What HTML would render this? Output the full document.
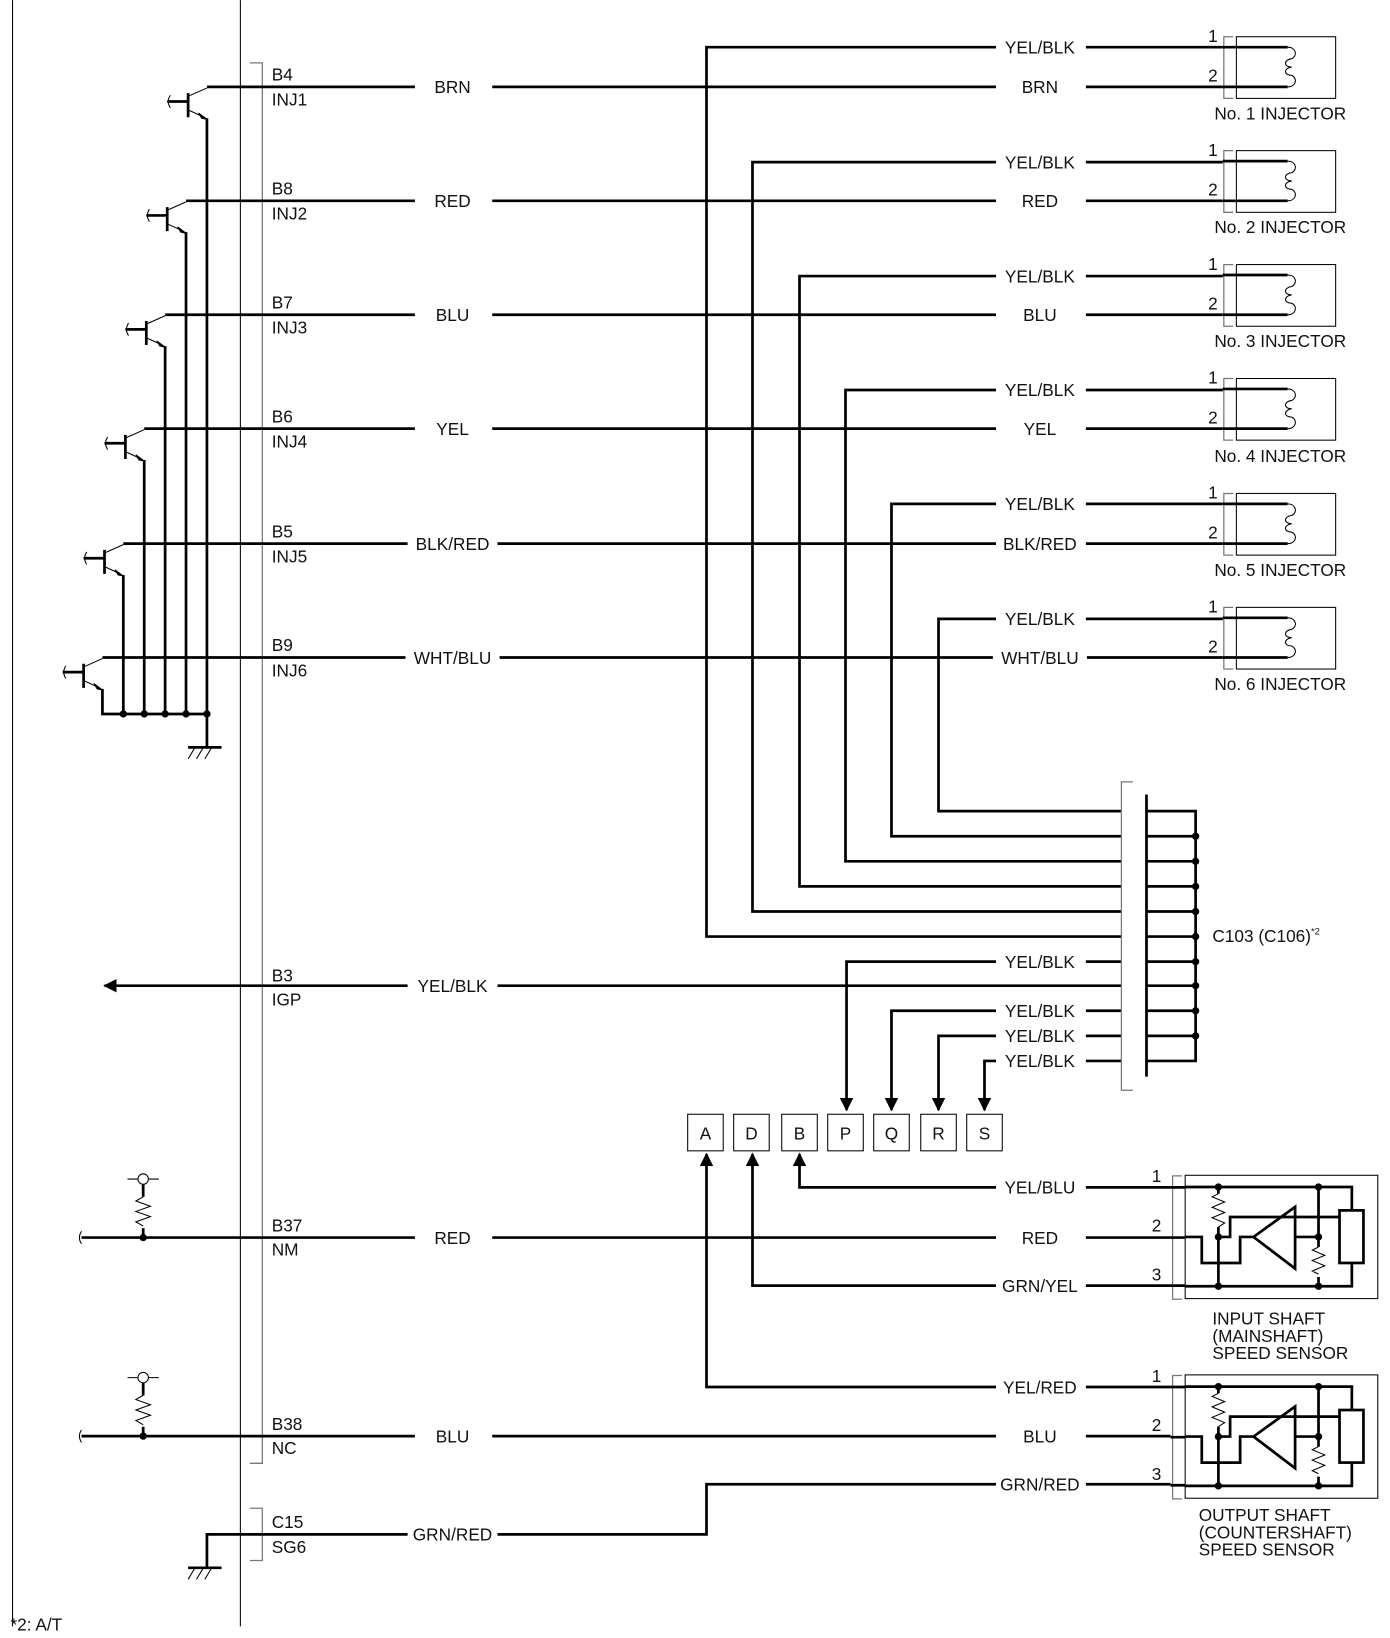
<!DOCTYPE html>
<html><head><meta charset="utf-8"><style>
html,body{margin:0;padding:0;background:#fff}
svg{display:block}
text{font-family:"Liberation Sans",Arial,sans-serif;font-size:16.5px;fill:#111}
.w{stroke:#000;stroke-width:2.6;fill:none}
.t{stroke:#000;stroke-width:1;fill:none}
.g{stroke:#777;stroke-width:1.2;fill:none}
.m{text-anchor:middle}
</style></head><body>
<svg width="1390" height="1638" viewBox="0 0 1330 1567" xmlns="http://www.w3.org/2000/svg">
<defs>
<marker id="ar" viewBox="0 0 10 10" refX="9" refY="5" markerWidth="5" markerHeight="5" orient="auto-start-reverse"><path d="M0,0 L10,5 L0,10z" fill="#000"/></marker>
</defs>
<!-- ECM -->
<path class="t" d="M12,0 V1556" stroke-width="1.6"/>
<path class="t" d="M230,0 V1556" stroke-width="1.6"/>
<path class="g" d="M239,60 H251 V1400 H239"/>
<path class="g" d="M239,1443 H251 V1493 H239"/>

<!-- main wires -->
<g class="w">
<path d="M198,83 H1170"/><path d="M178,192 H1170"/><path d="M158,301 H1170"/><path d="M138,410 H1170"/><path d="M118,520 H1170"/><path d="M98,629 H1170"/>
<path d="M100,943 H1073" marker-start="url(#ar)"/>
<path d="M78,1184 H1120"/><path d="M78,1374 H1120"/>
<path d="M198,1500 V1468 H676 V1420 H1120"/>
<path d="M1170,45 H676 V896 H1073"/>
<path d="M1170,155 H720 V872 H1073"/>
<path d="M1170,264 H765 V848 H1073"/>
<path d="M1170,373 H809 V824 H1073"/>
<path d="M1170,482 H853 V800 H1073"/>
<path d="M1170,592 H898 V776 H1073"/>
<path d="M1073,920 H810 V1062" marker-end="url(#ar)"/>
<path d="M1073,967 H853 V1062" marker-end="url(#ar)"/>
<path d="M1073,991 H898 V1062" marker-end="url(#ar)"/>
<path d="M1073,1015 H942 V1062" marker-end="url(#ar)"/>
<path d="M1120,1136 H765 V1104" marker-end="url(#ar)"/>
<path d="M1120,1230 H720 V1104" marker-end="url(#ar)"/>
<path d="M1120,1327 H676 V1104" marker-end="url(#ar)"/>
<path d="M1097,760 V1030"/>
<path d="M1097,776 H1144 V1015 H1097"/>
<path d="M1097,800 H1144 M1097,824 H1144 M1097,848 H1144 M1097,872 H1144 M1097,896 H1144 M1097,920 H1144 M1097,943 H1144 M1097,967 H1144 M1097,991 H1144"/>
<path d="M198,113 V715"/><path d="M178,222 V683"/><path d="M158,331 V683"/><path d="M138,440 V683"/><path d="M118,550 V683"/><path d="M98,659 V683 H198"/>
<path d="M180,715 H212"/>
<path d="M137,1133 V1145 M137,1175 V1184"/>
<path d="M137,1323 V1335 M137,1365 V1374"/>
</g>
<g fill="#000">
<circle cx="1144" cy="800" r="3.5"/><circle cx="1144" cy="824" r="3.5"/><circle cx="1144" cy="848" r="3.5"/><circle cx="1144" cy="872" r="3.5"/><circle cx="1144" cy="896" r="3.5"/><circle cx="1144" cy="920" r="3.5"/><circle cx="1144" cy="943" r="3.5"/><circle cx="1144" cy="967" r="3.5"/><circle cx="1144" cy="991" r="3.5"/>
<circle cx="118" cy="683" r="3.5"/><circle cx="138" cy="683" r="3.5"/><circle cx="158" cy="683" r="3.5"/><circle cx="178" cy="683" r="3.5"/><circle cx="198" cy="683" r="3.5"/>
<circle cx="137" cy="1184" r="3.5"/><circle cx="137" cy="1374" r="3.5"/>
</g>
<path class="g" d="M1084,748 H1073 V1043 H1084"/>

<g id="tr">
<path class="w" d="M180,89 V112 M160,97 H180"/>
<path class="t" d="M180,92 L198,84 M180,105 L193,111"/>
<path d="M198,114 L190,108 L193,113z" fill="#000" stroke="#000"/>
<path class="t" d="M163,91 q-4,6 0,12"/>
</g>
<use href="#tr" transform="translate(-20,109)"/>
<use href="#tr" transform="translate(-40,218)"/>
<use href="#tr" transform="translate(-60,327)"/>
<use href="#tr" transform="translate(-80,437)"/>
<use href="#tr" transform="translate(-100,546)"/>
<path class="t" d="M78,1178 q-4,6 0,12 M78,1368 q-4,6 0,12"/>
<path class="t" d="M186,716 l-6,10 M194,716 l-6,10 M202,716 l-6,10"/>
<path class="w" d="M180,1500 H212"/>
<path class="t" d="M186,1501 l-6,10 M194,1501 l-6,10 M202,1501 l-6,10"/>
<g class="t">
<path d="M122,1128 H152 M122,1318 H152"/>
<path d="M137,1145 l-7,4 l14,5 l-14,5 l14,5 l-14,5 l7,4 M137,1335 l-7,4 l14,5 l-14,5 l14,5 l-14,5 l7,4"/>
</g>
<circle cx="137" cy="1128" r="5" fill="#fff" stroke="#000"/>
<circle cx="137" cy="1318" r="5" fill="#fff" stroke="#000"/>

<g fill="#fff">
<rect x="397" y="70" width="74" height="26"/><rect x="397" y="179" width="74" height="26"/><rect x="397" y="288" width="74" height="26"/><rect x="397" y="397" width="74" height="26"/><rect x="390" y="507" width="86" height="26"/><rect x="388" y="616" width="90" height="26"/><rect x="390" y="930" width="86" height="26"/><rect x="397" y="1171" width="74" height="26"/><rect x="397" y="1361" width="74" height="26"/><rect x="390" y="1455" width="86" height="26"/>
<rect x="953" y="32" width="86" height="26"/><rect x="953" y="70" width="86" height="26"/><rect x="953" y="142" width="86" height="26"/><rect x="953" y="179" width="86" height="26"/><rect x="953" y="251" width="86" height="26"/><rect x="953" y="288" width="86" height="26"/><rect x="953" y="360" width="86" height="26"/><rect x="953" y="397" width="86" height="26"/><rect x="953" y="469" width="86" height="26"/><rect x="953" y="507" width="86" height="26"/><rect x="953" y="579" width="86" height="26"/><rect x="950" y="616" width="90" height="26"/>
<rect x="953" y="907" width="86" height="26"/><rect x="953" y="954" width="86" height="26"/><rect x="953" y="978" width="86" height="26"/><rect x="953" y="1002" width="86" height="26"/>
<rect x="953" y="1123" width="86" height="26"/><rect x="953" y="1171" width="86" height="26"/><rect x="953" y="1217" width="86" height="26"/><rect x="953" y="1314" width="86" height="26"/><rect x="953" y="1361" width="86" height="26"/><rect x="953" y="1407" width="86" height="26"/>
</g>
<g class="m">
<text x="433" y="89">BRN</text><text x="433" y="198">RED</text><text x="433" y="307">BLU</text><text x="433" y="416">YEL</text><text x="433" y="526">BLK/RED</text><text x="433" y="635">WHT/BLU</text><text x="433" y="949">YEL/BLK</text><text x="433" y="1190">RED</text><text x="433" y="1380">BLU</text><text x="433" y="1474">GRN/RED</text>
<text x="995" y="51">YEL/BLK</text><text x="995" y="89">BRN</text><text x="995" y="161">YEL/BLK</text><text x="995" y="198">RED</text><text x="995" y="270">YEL/BLK</text><text x="995" y="307">BLU</text><text x="995" y="379">YEL/BLK</text><text x="995" y="416">YEL</text><text x="995" y="488">YEL/BLK</text><text x="995" y="526">BLK/RED</text><text x="995" y="598">YEL/BLK</text><text x="995" y="635">WHT/BLU</text>
<text x="995" y="926">YEL/BLK</text><text x="995" y="973">YEL/BLK</text><text x="995" y="997">YEL/BLK</text><text x="995" y="1021">YEL/BLK</text>
<text x="995" y="1142">YEL/BLU</text><text x="995" y="1190">RED</text><text x="995" y="1236">GRN/YEL</text><text x="995" y="1333">YEL/RED</text><text x="995" y="1380">BLU</text><text x="995" y="1426">GRN/RED</text>
</g>
<g>
<text x="260" y="77">B4</text><text x="260" y="101">INJ1</text>
<text x="260" y="186">B8</text><text x="260" y="210">INJ2</text>
<text x="260" y="295">B7</text><text x="260" y="319">INJ3</text>
<text x="260" y="404">B6</text><text x="260" y="428">INJ4</text>
<text x="260" y="514">B5</text><text x="260" y="538">INJ5</text>
<text x="260" y="623">B9</text><text x="260" y="647">INJ6</text>
<text x="260" y="939">B3</text><text x="260" y="962">IGP</text>
<text x="260" y="1178">B37</text><text x="260" y="1201">NM</text>
<text x="260" y="1368">B38</text><text x="260" y="1391">NC</text>
<text x="260" y="1462">C15</text><text x="260" y="1486">SG6</text>
<text x="1160" y="901">C103 (C106)<tspan font-size="9" dy="-7">*2</tspan></text>
<text x="10" y="1560">*2:  A/T</text>
</g>
<g class="t" fill="#fff">
<rect x="658" y="1066" width="34" height="35"/><rect x="702" y="1066" width="34" height="35"/><rect x="748" y="1066" width="34" height="35"/><rect x="792" y="1066" width="34" height="35"/><rect x="836" y="1066" width="34" height="35"/><rect x="881" y="1066" width="34" height="35"/><rect x="925" y="1066" width="34" height="35"/>
</g>
<g class="m">
<text x="675" y="1090">A</text><text x="719" y="1090">D</text><text x="765" y="1090">B</text><text x="809" y="1090">P</text><text x="853" y="1090">Q</text><text x="898" y="1090">R</text><text x="942" y="1090">S</text>
</g>
<g id="inj">
<path class="g" d="M1180,35 H1171 V94 H1180"/>
<rect x="1183" y="35" width="95" height="59" class="t" stroke-width="1.3"/>
<path class="w" d="M1170,45 H1232 M1170,83 H1232"/>
<path class="t" d="M1232,45 c8,0 10,8 4,11 c-8,1 -8,8 0,8 c-8,1 -8,8 0,8 c6,3 4,11 -4,11"/>
<text x="1156" y="40">1</text><text x="1156" y="78">2</text>
</g>
<text x="1225" y="114" class="m">No. 1 INJECTOR</text>
<use href="#inj" transform="translate(0,109)"/><text x="1225" y="223" class="m">No. 2 INJECTOR</text>
<use href="#inj" transform="translate(0,218)"/><text x="1225" y="332" class="m">No. 3 INJECTOR</text>
<use href="#inj" transform="translate(0,327)"/><text x="1225" y="442" class="m">No. 4 INJECTOR</text>
<use href="#inj" transform="translate(0,437)"/><text x="1225" y="551" class="m">No. 5 INJECTOR</text>
<use href="#inj" transform="translate(0,546)"/><text x="1225" y="660" class="m">No. 6 INJECTOR</text>
<g id="sen">
<path class="g" d="M1131,1125 H1122 V1243 H1131"/>
<rect x="1134" y="1124.4" width="184.3" height="118" class="t" stroke-width="1.3"/>
<path class="w" d="M1120,1136 H1134 M1120,1184 H1134 M1120,1230 H1134"/>
<path class="w" d="M1134,1135.6 H1293.5 V1158 M1293.5,1208.3 V1230.6 H1134 M1165.8,1135.6 V1142 M1165.8,1174 V1230.6 M1261.6,1135.6 V1193 M1261.6,1221.7 V1230.6 M1134,1183.4 H1149.9 V1208.3 H1186.6 V1183.4 H1199.4 M1165.8,1183.4 H1177 V1164.3 H1281.7 M1239.2,1183.4 H1261.6"/>
<rect x="1281.7" y="1158" width="22.9" height="50.3" class="w" fill="#fff" stroke-width="1.8"/>
<path class="w" d="M1199.4,1183.4 L1239.2,1154.7 V1213.7z" fill="#fff" stroke-width="1.8"/>
<path class="t" d="M1165.8,1142 l-6,3 l12,5 l-12,5 l12,5 l-12,5 l12,5 l-6,4 M1261.6,1193 l-6,3 l12,5 l-12,5 l12,5 l-12,5 l6,3"/>
<g fill="#000"><circle cx="1165.8" cy="1135.6" r="3.5"/><circle cx="1165.8" cy="1183.4" r="3.5"/><circle cx="1165.8" cy="1230.6" r="3.5"/><circle cx="1261.6" cy="1135.6" r="3.5"/><circle cx="1261.6" cy="1183.4" r="3.5"/><circle cx="1261.6" cy="1230.6" r="3.5"/></g>
<text x="1102" y="1131">1</text><text x="1102" y="1178">2</text><text x="1102" y="1225">3</text>
</g>
<use href="#sen" transform="translate(0,191)"/>
<text x="1160" y="1267">INPUT SHAFT</text><text x="1160" y="1284">(MAINSHAFT)</text><text x="1160" y="1300">SPEED SENSOR</text>
<text x="1147" y="1455">OUTPUT SHAFT</text><text x="1147" y="1472">(COUNTERSHAFT)</text><text x="1147" y="1488">SPEED SENSOR</text>
</svg>
</body></html>
